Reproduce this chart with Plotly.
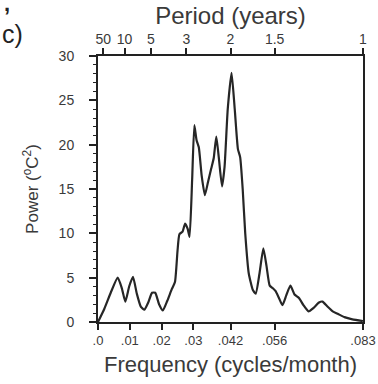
import plotly.graph_objects as go

# Power spectrum (frequency in cycles/month, power in degC^2)
freq = [0.0000, 0.0020, 0.0040, 0.0062, 0.0075, 0.0086, 0.0098, 0.0110, 0.0122, 0.0135,
        0.0146, 0.0158, 0.0170, 0.0180, 0.0192, 0.0204, 0.0218, 0.0232, 0.0242, 0.0250,
        0.0256, 0.0266, 0.0274, 0.0282, 0.0288, 0.0296, 0.0303, 0.0310, 0.0317, 0.0326,
        0.0336, 0.0346, 0.0356, 0.0364, 0.0372, 0.0380, 0.0390, 0.0398, 0.0408, 0.0420,
        0.0430, 0.0440, 0.0447, 0.0455, 0.0463, 0.0474, 0.0487, 0.0496, 0.0508, 0.0520,
        0.0530, 0.0540, 0.0550, 0.0558, 0.0568, 0.0580, 0.0592, 0.0605, 0.0618, 0.0632,
        0.0646, 0.0662, 0.0678, 0.0695, 0.0706, 0.0720, 0.0738, 0.0755, 0.0775, 0.0800,
        0.0833]
power = [0.0, 1.5, 3.3, 5.0, 3.8, 2.3, 4.0, 5.1, 3.2, 1.7,
         1.4, 2.2, 3.3, 3.3, 2.0, 1.3, 2.4, 3.7, 4.5, 8.0,
         9.9, 10.2, 11.1, 10.5, 9.6, 16.0, 22.2, 20.5, 19.7, 16.5,
         14.3, 15.8, 17.3, 18.5, 20.9, 18.5, 15.3, 17.5, 24.0, 28.1,
         24.0, 19.5, 18.6, 15.0, 10.0, 5.5, 3.6, 3.2, 5.5, 8.3,
         6.3, 4.1, 3.8, 3.5, 2.8, 1.9, 3.0, 4.1, 3.1, 2.7,
         1.9, 1.2, 1.6, 2.2, 2.3, 1.8, 1.2, 0.9, 0.55, 0.3,
         0.1]

# Bottom axis ticks (frequency)
freq_ticks = [0.0, 0.01, 0.02, 0.03, 1 / 24, 1 / 18, 1 / 12]
freq_labels = [".0", ".01", ".02", ".03", ".042", ".056", ".083"]

# Top axis ticks (period in years -> frequency in cycles/month)
period_years = [50, 10, 5, 3, 2, 1.5, 1]
period_labels = ["50", "10", "5", "3", "2", "1.5", "1"]
period_ticks = [1 / (12 * p) for p in period_years]

FONT = "Liberation Sans, Arial, sans-serif"
TXT = "#3a3a3a"
AX = "#222222"
xmax = 1 / 12

fig = go.Figure()
fig.add_trace(go.Scatter(
    x=freq, y=power, mode="lines",
    line=dict(color="#262626", width=2.2, shape="spline", smoothing=0.5),
    showlegend=False, hoverinfo="skip",
))
# invisible trace to activate the top axis
fig.add_trace(go.Scatter(x=[0, xmax], y=[0, 0], xaxis="x2", mode="lines",
                         line=dict(width=0), showlegend=False, hoverinfo="skip"))

fig.update_layout(
    width=378, height=384,
    margin=dict(l=98, r=15, t=56, b=62),
    plot_bgcolor="white", paper_bgcolor="white",
    font=dict(family=FONT, color=TXT, size=14),
    xaxis=dict(
        range=[0, xmax], tickvals=freq_ticks, ticktext=freq_labels, automargin=False,
        ticks="outside", ticklen=6, tickwidth=1.5, tickcolor=AX,
        showline=True, linecolor=AX, linewidth=2, showgrid=False, zeroline=False,
        tickfont=dict(size=13, color=TXT), ticklabelstandoff=-1,
        title=dict(text="Frequency (cycles/month)", font=dict(size=22, color=TXT), standoff=10),
    ),
    xaxis2=dict(
        range=[0, xmax], overlaying="x", side="top", automargin=False,
        tickvals=period_ticks, ticktext=period_labels,
        ticks="outside", ticklen=6, tickwidth=1.5, tickcolor=AX,
        showline=True, linecolor=AX, linewidth=2, showgrid=False, zeroline=False,
        tickfont=dict(size=14, color=TXT), ticklabelstandoff=-2,
        title=dict(text="Period (years)", font=dict(size=24, color=TXT), standoff=0),
    ),
    yaxis=dict(
        range=[0, 30], tickvals=[0, 5, 10, 15, 20, 25, 30], automargin=False,
        ticks="outside", ticklen=7, tickwidth=1.5, tickcolor=AX,
        minor=dict(dtick=1, ticks="outside", ticklen=3, tickcolor=AX, tickwidth=1),
        showline=True, linecolor=AX, linewidth=2, mirror=True,
        showgrid=False, zeroline=False,
        tickfont=dict(size=14, color=TXT), ticklabelstandoff=12,
        title=dict(text="Power (<sup>o</sup>C<sup>2</sup>)", font=dict(size=17, color=TXT), standoff=16),
    ),
    annotations=[
        dict(text="c)", xref="paper", yref="paper", x=-98 / 265, y=1 + 22 / 266,
             xanchor="left", yanchor="middle", showarrow=False,
             font=dict(size=25, color="#222222", family=FONT)),
        dict(text="<b>,</b>", xref="paper", yref="paper", x=-96 / 265, y=1 + 52 / 266,
             xanchor="left", yanchor="middle", showarrow=False,
             font=dict(size=22, color="#222222", family=FONT)),
    ],
)

fig.write_html("out.html")
